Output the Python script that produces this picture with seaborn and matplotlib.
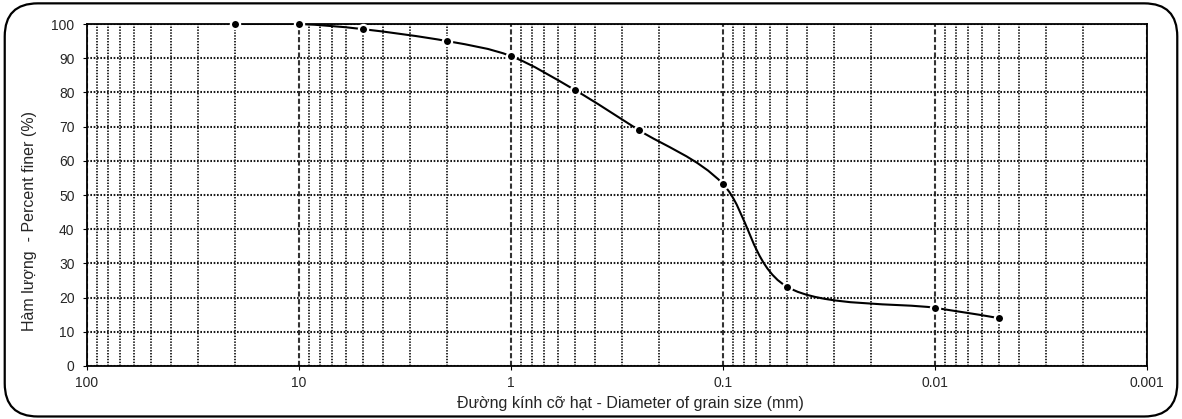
import numpy as np
import matplotlib
matplotlib.use("Agg")
import matplotlib.pyplot as plt
import seaborn as sns
from matplotlib.path import Path
from matplotlib.patches import PathPatch, FancyBboxPatch
from matplotlib.ticker import LogLocator, FixedLocator, FixedFormatter

# kich thuoc hat (mm) va phan tram lot sang
diameter = [20, 10, 5, 2, 1, 0.5, 0.25, 0.1, 0.05, 0.01, 0.005]
percent_finer = [100, 100, 98.5, 95, 90.6, 80.7, 69, 53.2, 23.2, 17, 14]

x_ticks = [100, 10, 1, 0.1, 0.01, 0.001]
x_ticklabels = ["100", "10", "1", "0.1", "0.01", "0.001"]
y_ticks = [0, 10, 20, 30, 40, 50, 60, 70, 80, 90, 100]

sns.set_theme(style="white")
plt.rcParams["font.family"] = ["Liberation Sans", "DejaVu Sans"]

fig = plt.figure(figsize=(11.82, 4.19), dpi=100)
ax = fig.add_axes([0.0736, 0.1265, 0.8968, 0.8162])

# khung bo tron ben ngoai
box = FancyBboxPatch((0.004, 0.006), 0.992, 0.986, boxstyle="round,pad=0,rounding_size=0.028",
                     transform=fig.transFigure, fill=False, edgecolor="black", linewidth=1.6,
                     mutation_aspect=1182 / 419)
fig.patches.append(box)

ax.set_xscale("log")
ax.set_xlim(100, 0.001)
ax.set_ylim(0, 100)

# luoi
ax.xaxis.set_major_locator(FixedLocator(x_ticks))
ax.xaxis.set_major_formatter(FixedFormatter(x_ticklabels))
ax.xaxis.set_minor_locator(LogLocator(base=10, subs=np.arange(2, 10), numticks=20))
ax.xaxis.set_minor_formatter(plt.NullFormatter())
ax.set_yticks(y_ticks)
ax.grid(which="major", axis="x", color="#333333", linestyle=(0, (2.5, 1.2)), linewidth=1.5)
ax.grid(which="minor", axis="x", color="#1a1a1a", linestyle=(0, (0.8, 0.8)), linewidth=1.3)
ax.grid(which="major", axis="y", color="#1a1a1a", linestyle=(0, (0.8, 0.8)), linewidth=1.5)
ax.tick_params(which="minor", length=0)
ax.tick_params(which="major", length=3, width=0.8, color="black", labelsize=10, pad=4,
               bottom=True, left=True)
ax.tick_params(axis="y", pad=6)
for s in ax.spines.values():
    s.set_color("black")
    s.set_linewidth(1.3)

# duong cong tron (kieu Excel) qua cac diem
lx = np.log10(diameter)
py = np.array(percent_finer, dtype=float)
n = len(lx)
verts = [(10 ** lx[0], py[0])]
codes = [Path.MOVETO]
for i in range(n - 1):
    p0 = np.array([lx[max(i - 1, 0)], py[max(i - 1, 0)]])
    p1 = np.array([lx[i], py[i]])
    p2 = np.array([lx[i + 1], py[i + 1]])
    p3 = np.array([lx[min(i + 2, n - 1)], py[min(i + 2, n - 1)]])
    c1 = p1 + (p2 - p0) / 6
    c2 = p2 - (p3 - p1) / 6
    verts += [(10 ** c1[0], c1[1]), (10 ** c2[0], c2[1]), (10 ** p2[0], p2[1])]
    codes += [Path.CURVE4] * 3
ax.add_patch(PathPatch(Path(verts, codes), fill=False, edgecolor="black", linewidth=1.5, zorder=3))

sns.scatterplot(x=diameter, y=percent_finer, ax=ax, color="black", s=44,
                edgecolor="white", linewidth=1.6, zorder=4, clip_on=False)

ax.set_xlabel("Đường kính cỡ hạt - Diameter of grain size (mm)", fontsize=11.5, va="center")
ax.set_ylabel("Hàm lượng  - Percent finer (%)", fontsize=11.5, va="center")
ax.xaxis.set_label_coords(0.513, -0.111)
ax.yaxis.set_label_coords(-0.0538, 0.424)

fig.savefig("out.png", dpi=100)
